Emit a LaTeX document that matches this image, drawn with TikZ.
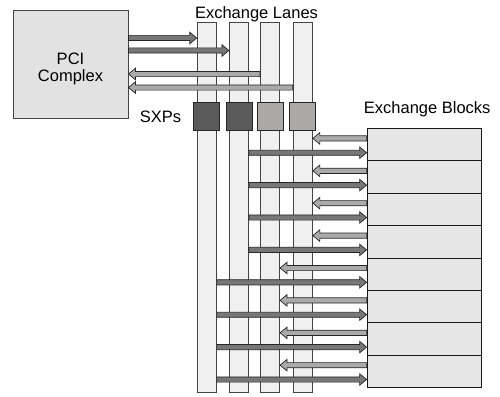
\documentclass[tikz,border=0pt]{standalone}
\usepackage{fontspec}
\setmainfont{Liberation Sans}
\usetikzlibrary{calc}
\definecolor{lanefill}{HTML}{F0F0F0}
\definecolor{laneline}{HTML}{444444}
\definecolor{pcifill}{HTML}{E2E2E2}
\definecolor{blkfill}{HTML}{E6E6E6}
\definecolor{sxpdark}{HTML}{5A5A5A}
\definecolor{sxplight}{HTML}{ABA8A8}
\definecolor{rgtfill}{HTML}{777777}
\definecolor{lftfill}{HTML}{AAAAAA}
\newcommand{\arrsh}{2.6pt}
\newcommand{\arrhh}{5.8pt}
\newcommand{\arrhl}{7pt}
\newcommand{\fatarrow}[3]{%
  \draw[fatarr,fill=#3] let \p1=(#1), \p2=(#2), \n1={ifthenelse(\x2>\x1,1,-1)} in
    ({\x1},{\y1+\arrsh}) -- ({\x2-\n1*\arrhl},{\y1+\arrsh}) -- ({\x2-\n1*\arrhl},{\y1+\arrhh})
    -- ({\x2},{\y1}) -- ({\x2-\n1*\arrhl},{\y1-\arrhh}) -- ({\x2-\n1*\arrhl},{\y1-\arrsh})
    -- ({\x1},{\y1-\arrsh}) -- cycle;}
\tikzset{
  lbl/.style={font=\fontsize{16.5}{17}\selectfont, inner sep=0pt},
  lane/.style={draw=laneline, fill=lanefill, line width=0.9pt, minimum width=19.2pt, minimum height=370pt, inner sep=0pt},
  sxp/.style={draw=black!85, line width=0.9pt, minimum width=26pt, minimum height=28pt, inner sep=0pt},
  blk/.style={draw=black!90, fill=blkfill, line width=0.8pt, minimum width=114.7pt, minimum height=32.4pt, inner sep=0pt},
  pcibox/.style={draw=laneline, fill=pcifill, line width=0.9pt, minimum width=115pt, minimum height=108pt, inner sep=0pt},
  fatarr/.style={draw=black!85, line width=0.7pt, line join=miter},
}
\begin{document}
\begin{tikzpicture}[x=1pt,y=-1pt]
\useasboundingbox (0,0) rectangle (500,396);
% PCI complex
\node[pcibox] (pci) at (70.5,64) {};
\node[lbl, align=center] (pcitxt) at (70.5,68.5) {PCI\\Complex};
% lanes
\node[lane] (lane1) at (206.8,207.9) {};
\node[lane] (lane2) at (239,207.9) {};
\node[lane] (lane3) at (270,207.9) {};
\node[lane] (lane4) at (302.8,207.9) {};
\node[lbl, anchor=base] (lanestxt) at (256.5,18.3) {Exchange Lanes};
% SXPs
\coordinate (sxprow) at (0,116.2);
\node[sxp, fill=sxpdark] (sxp1) at (lane1 |- sxprow) {};
\node[sxp, fill=sxpdark] (sxp2) at (lane2 |- sxprow) {};
\node[sxp, fill=sxplight] (sxp3) at (lane3 |- sxprow) {};
\node[sxp, fill=sxplight] (sxp4) at (lane4 |- sxprow) {};
\node[lbl, anchor=base] (sxptxt) at (160.5,122) {SXPs};
% exchange blocks
\foreach \i in {1,...,8} {
  \node[blk] (blk\i) at (424.35,{112.1+32.4*\i}) {};
  \coordinate (L\i) at ([yshift=-10.5pt]blk\i.north west);
  \coordinate (R\i) at ([yshift=-24.8pt]blk\i.north west);
}
\node[lbl, anchor=base] (blktxt) at (427.2,113.3) {Exchange Blocks};
% PCI arrows
\coordinate (p1) at (0,38);
\coordinate (p2) at (0,50.5);
\coordinate (p3) at (0,74);
\coordinate (p4) at (0,87.5);
\fatarrow{pci.east |- p1}{lane1.west |- p1}{rgtfill}
\fatarrow{pci.east |- p2}{lane2.west |- p2}{rgtfill}
\fatarrow{lane3.west |- p3}{pci.east |- p3}{lftfill}
\fatarrow{lane4.west |- p4}{pci.east |- p4}{lftfill}
% block arrows
\foreach \i in {1,...,4} {
  \fatarrow{L\i}{lane4.east |- L\i}{lftfill}
  \fatarrow{lane2.east |- R\i}{R\i}{rgtfill}
}
\foreach \i in {5,...,8} {
  \fatarrow{L\i}{lane3.east |- L\i}{lftfill}
  \fatarrow{lane1.east |- R\i}{R\i}{rgtfill}
}
\end{tikzpicture}
\end{document}
